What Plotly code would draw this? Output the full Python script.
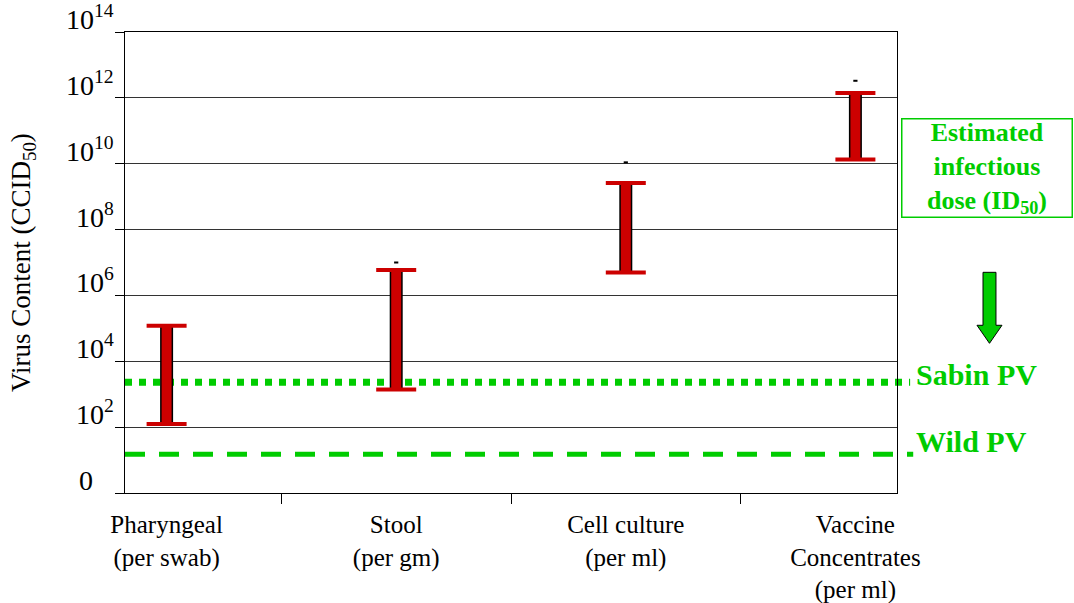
import numpy as np
import plotly.graph_objects as go

# ---------------- data ----------------
categories = ["Pharyngeal<br>(per swab)", "Stool<br>(per gm)",
              "Cell culture<br>(per ml)", "Vaccine<br>Concentrates<br>(per ml)"]
low = [125, 1400, 5.0e6, 1.35e10]          # lower end of range (CCID50)
high = [1.2e5, 5.9e6, 2.6e9, 1.4e12]       # upper end of range (CCID50)
marks = [None, 1.0e7, 1.1e10, 3.3e12]      # small marks above the ranges
sabin_level = 2300                         # Sabin PV ID50
wild_level = 15                            # Wild PV ID50
y_tickvals = [1, 1e2, 1e4, 1e6, 1e8, 1e10, 1e12, 1e14]
y_ticktext = ["0\u2007\u00a0", "10<sup>2</sup>", "10<sup>4</sup>", "10<sup>6</sup>",
              "10<sup>8</sup>", "10<sup>10</sup>", "10<sup>12</sup>", "10<sup>14</sup>"]

RED = "#CC0000"
GREEN = "#00CC00"
SERIF = "Liberation Serif, Times New Roman, serif"

span = [h - l for h, l in zip(high, low)]
zeros = [0] * len(low)

fig = go.Figure()

# black outline of stems
fig.add_trace(go.Scatter(
    x=categories, y=low, mode="markers", marker=dict(size=0.1, opacity=0),
    error_y=dict(type="data", symmetric=False, array=span, arrayminus=zeros,
                 thickness=13, width=0, color="black"),
    showlegend=False, hoverinfo="skip"))
# red stems
fig.add_trace(go.Scatter(
    x=categories, y=low, mode="markers", marker=dict(size=0.1, opacity=0),
    error_y=dict(type="data", symmetric=False, array=span, arrayminus=zeros,
                 thickness=10, width=0, color=RED),
    showlegend=False, hoverinfo="skip"))
# red caps
fig.add_trace(go.Scatter(
    x=categories, y=low, mode="markers", marker=dict(size=0.1, opacity=0),
    error_y=dict(type="data", symmetric=False, array=span, arrayminus=zeros,
                 thickness=4, width=20, color=RED),
    showlegend=False, hoverinfo="skip"))
# tiny marks
fig.add_trace(go.Scatter(
    x=categories, y=marks, mode="markers",
    marker=dict(symbol="line-ew", size=3, line=dict(width=2, color="black")),
    showlegend=False, hoverinfo="skip"))

# reference levels
fig.add_shape(type="line", xref="paper", yref="y", x0=0, x1=1.017,
              y0=sabin_level, y1=sabin_level, layer="between",
              line=dict(color=GREEN, width=7, dash="7px,7px"))
fig.add_shape(type="line", xref="paper", yref="y", x0=0, x1=1.021,
              y0=wild_level, y1=wild_level, layer="between",
              line=dict(color=GREEN, width=5, dash="20px,14px"))

# block arrow
fig.add_shape(type="path", xref="paper", yref="paper",
              path="M 1.1114,0.4787 L 1.1282,0.4787 L 1.1282,0.3638 L 1.1360,0.3638 "
                   "L 1.1198,0.3247 L 1.1036,0.3638 L 1.1114,0.3638 Z",
              fillcolor=GREEN, line=dict(color="black", width=1))

# y tick labels (sitting on top of their grid lines)
for v, t in zip(y_tickvals, y_ticktext):
    fig.add_annotation(xref="paper", yref="y", x=0, y=np.log10(v),
                       xanchor="right", yanchor="bottom", xshift=-10, yshift=-4,
                       text=t, showarrow=False, borderpad=0,
                       font=dict(family=SERIF, size=28, color="black"))

fig.add_annotation(xref="paper", yref="y", x=1, y=np.log10(sabin_level),
                   xanchor="left", yanchor="middle", xshift=17, yshift=8,
                   text="<b>Sabin PV</b>", showarrow=False,
                   font=dict(family=SERIF, size=30, color=GREEN))
fig.add_annotation(xref="paper", yref="y", x=1, y=np.log10(wild_level),
                   xanchor="left", yanchor="middle", xshift=17, yshift=13,
                   text="<b>Wild PV</b>", showarrow=False,
                   font=dict(family=SERIF, size=30, color=GREEN))
fig.add_annotation(xref="paper", yref="paper", x=1.116, y=0.705,
                   xanchor="center", yanchor="middle",
                   text="<b>Estimated<br>infectious<br>dose (ID<sub>50</sub>)</b>",
                   showarrow=False, width=165, height=93, borderpad=2,
                   bordercolor=GREEN, borderwidth=1.5, bgcolor="white",
                   font=dict(family=SERIF, size=26, color=GREEN))

fig.update_xaxes(type="category", categoryorder="array", categoryarray=categories,
                 tickson="boundaries", ticks="outside", ticklen=10, tickcolor="black",
                 showline=True, linecolor="black", linewidth=1, mirror=True,
                 showgrid=False, ticklabelstandoff=9, automargin=False,
                 tickfont=dict(family=SERIF, size=25, color="black"))
fig.update_yaxes(type="log", range=[0, 14], tickvals=y_tickvals,
                 showticklabels=False,
                 ticks="outside", ticklen=9, tickcolor="black", automargin=False,
                 showline=True, linecolor="black", linewidth=1, mirror=True,
                 showgrid=True, gridcolor="#333333", gridwidth=1,
                 title=dict(text="Virus Content (CCID<sub>50</sub>)", standoff=76,
                            font=dict(family=SERIF, size=27, color="black")))

fig.update_layout(width=1074, height=603,
                  margin=dict(l=125, r=177, t=32, b=110),
                  paper_bgcolor="white", plot_bgcolor="white",
                  showlegend=False)

# remove the page's default 8px body margin so the figure fills the window
fig.write_html("out.html", config={"displayModeBar": False},
               post_script="document.body.style.margin='0';")
